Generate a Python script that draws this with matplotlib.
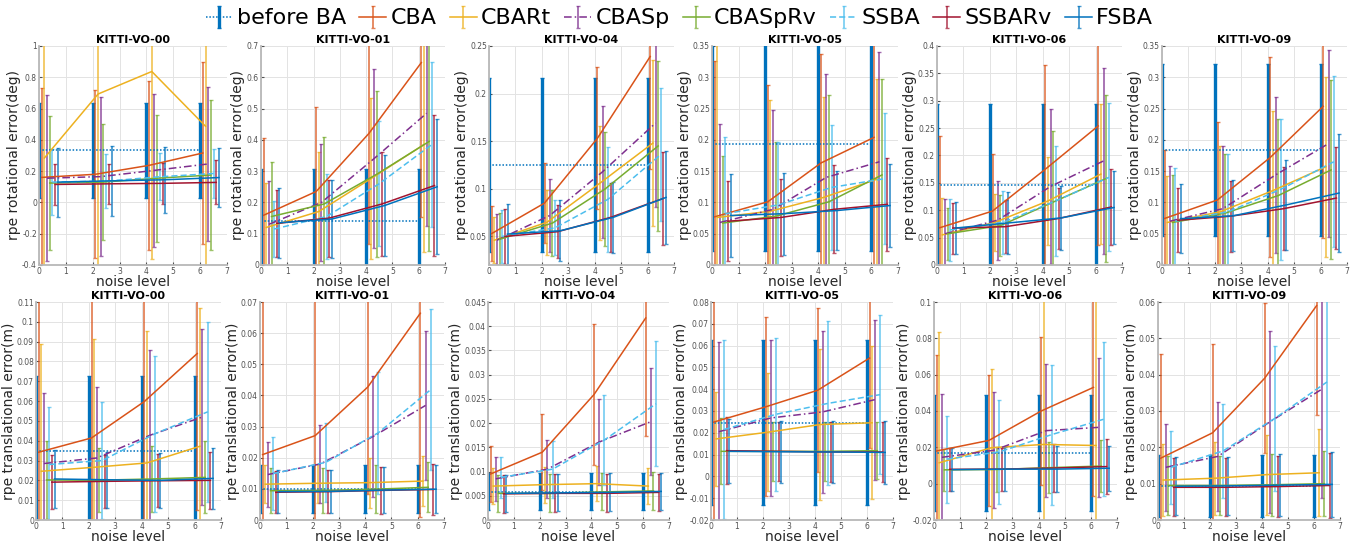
import matplotlib
matplotlib.use('Agg')
import matplotlib.pyplot as plt
from matplotlib.ticker import FuncFormatter, MultipleLocator
import numpy as np

plt.rcParams['font.family'] = ['DejaVu Sans']

# ---------------- data ----------------
noise_levels = [0, 2, 4, 6]
series_names = ['before BA', 'CBA', 'CBARt', 'CBASp', 'CBASpRv', 'SSBA', 'SSBARv', 'FSBA']
sequences = ['KITTI-VO-00', 'KITTI-VO-01', 'KITTI-VO-04', 'KITTI-VO-05', 'KITTI-VO-06', 'KITTI-VO-09']

# rows: series (same order as series_names); columns: noise levels 0,2,4,6
rot00_mean = [[0.332, 0.332, 0.332, 0.332], [0.16, 0.18, 0.237, 0.316], [0.284, 0.693, 0.837, 0.487],
              [0.155, 0.165, 0.205, 0.246], [0.124, 0.13, 0.155, 0.175], [0.13, 0.136, 0.164, 0.185],
              [0.115, 0.119, 0.122, 0.128], [0.13, 0.138, 0.145, 0.159]]
rot00_std = [[0.304, 0.304, 0.304, 0.304], [0.57, 0.536, 0.54, 0.58], [1.2, 1.2, 1.2, 1.2],
             [0.53, 0.51, 0.49, 0.49], [0.43, 0.37, 0.405, 0.48], [0.21, 0.174, 0.151, 0.157],
             [0.133, 0.129, 0.132, 0.141], [0.22, 0.222, 0.21, 0.186]]

rot01_mean = [[0.141, 0.141, 0.141, 0.141], [0.159, 0.235, 0.42, 0.647], [0.12, 0.171, 0.277, 0.385],
              [0.13, 0.2, 0.34, 0.485], [0.155, 0.195, 0.29, 0.395], [0.115, 0.155, 0.26, 0.385],
              [0.133, 0.15, 0.195, 0.254], [0.135, 0.147, 0.19, 0.25]]
rot01_std = [[0.165, 0.165, 0.165, 0.165], [0.248, 0.27, 0.353, 0.494], [0.141, 0.19, 0.258, 0.345],
             [0.137, 0.187, 0.287, 0.36], [0.173, 0.213, 0.265, 0.35], [0.09, 0.135, 0.2, 0.264],
             [0.106, 0.123, 0.166, 0.225], [0.112, 0.125, 0.16, 0.216]]

rot04_mean = [[0.125, 0.125, 0.125, 0.125], [0.053, 0.085, 0.153, 0.239], [0.046, 0.065, 0.106, 0.148],
              [0.046, 0.072, 0.118, 0.169], [0.047, 0.064, 0.1, 0.145], [0.05, 0.059, 0.089, 0.136],
              [0.05, 0.055, 0.07, 0.09], [0.0525, 0.056, 0.07, 0.091]]
rot04_std = [[0.0914, 0.0914, 0.0914, 0.0914], [0.0286, 0.042, 0.0745, 0.118], [0.024, 0.034, 0.06, 0.087],
             [0.028, 0.038, 0.0695, 0.088], [0.028, 0.0345, 0.06, 0.089], [0.028, 0.029, 0.055, 0.07],
             [0.029, 0.028, 0.036, 0.0487], [0.032, 0.032, 0.0375, 0.049]]

rot05_mean = [[0.194, 0.194, 0.194, 0.194], [0.077, 0.101, 0.163, 0.204], [0.076, 0.086, 0.108, 0.137],
              [0.068, 0.089, 0.14, 0.165], [0.067, 0.078, 0.101, 0.144], [0.082, 0.096, 0.124, 0.138],
              [0.07, 0.076, 0.089, 0.097], [0.079, 0.082, 0.087, 0.095]]
rot05_std = [[0.172, 0.172, 0.172, 0.172], [0.249, 0.186, 0.175, 0.23], [0.3, 0.177, 0.16, 0.16],
             [0.157, 0.159, 0.165, 0.176], [0.107, 0.118, 0.17, 0.153], [0.123, 0.101, 0.1, 0.105],
             [0.064, 0.062, 0.0705, 0.0747], [0.066, 0.0655, 0.063, 0.0665]]

rot06_mean = [[0.147, 0.147, 0.147, 0.147], [0.068, 0.0985, 0.175, 0.254], [0.055, 0.078, 0.117, 0.166],
              [0.057, 0.082, 0.1435, 0.19], [0.057, 0.072, 0.115, 0.158], [0.064, 0.078, 0.117, 0.16],
              [0.0675, 0.07, 0.085, 0.106], [0.0675, 0.0768, 0.086, 0.105]]
rot06_std = [[0.147, 0.147, 0.147, 0.147], [0.167, 0.104, 0.19, 0.217], [0.067, 0.052, 0.08, 0.1275],
             [0.064, 0.072, 0.1415, 0.169], [0.047, 0.056, 0.13, 0.152], [0.056, 0.058, 0.101, 0.135],
             [0.0465, 0.048, 0.056, 0.07], [0.0475, 0.0565, 0.058, 0.067]]

rot09_mean = [[0.1835, 0.1835, 0.1835, 0.1835], [0.0744, 0.104, 0.172, 0.2536], [0.068, 0.085, 0.119, 0.157],
              [0.07, 0.09, 0.144, 0.194], [0.068, 0.083, 0.111, 0.152], [0.07, 0.085, 0.121, 0.165],
              [0.0715, 0.078, 0.09, 0.107], [0.074, 0.0787, 0.096, 0.115]]
rot09_std = [[0.137, 0.137, 0.137, 0.137], [0.11, 0.125, 0.16, 0.21], [0.074, 0.105, 0.127, 0.144],
             [0.088, 0.1, 0.125, 0.15], [0.076, 0.095, 0.123, 0.143], [0.085, 0.093, 0.113, 0.137],
             [0.0515, 0.057, 0.0665, 0.082], [0.055, 0.0566, 0.072, 0.094]]

trans00_mean = [[0.0347, 0.0347, 0.0347, 0.0347], [0.0342, 0.0414, 0.0598, 0.084], [0.0246, 0.0266, 0.0288, 0.0372],
                [0.0285, 0.0313, 0.0427, 0.052], [0.0202, 0.0201, 0.0207, 0.0215], [0.028, 0.03, 0.0435, 0.0546],
                [0.0191, 0.0195, 0.0198, 0.02], [0.0207, 0.0203, 0.02, 0.021]]
trans00_std = [[0.0382, 0.0382, 0.0382, 0.0382], [0.08, 0.08, 0.08, 0.079], [0.064, 0.0647, 0.0667, 0.07],
               [0.0358, 0.036, 0.043, 0.0443], [0.0195, 0.0162, 0.0168, 0.0182], [0.0288, 0.0293, 0.0395, 0.0454],
               [0.0136, 0.0132, 0.0133, 0.0142], [0.0145, 0.0142, 0.0138, 0.0152]]

trans01_mean = [[0.01, 0.01, 0.01, 0.01], [0.021, 0.0271, 0.0427, 0.0664], [0.0115, 0.0118, 0.012, 0.0125],
                [0.0146, 0.018, 0.0268, 0.0368], [0.0094, 0.0095, 0.0099, 0.0105], [0.0149, 0.0185, 0.028, 0.0419],
                [0.0089, 0.0091, 0.0095, 0.0098], [0.0091, 0.0092, 0.0096, 0.0099]]
trans01_std = [[0.0076, 0.0076, 0.0076, 0.0076], [0.055, 0.05, 0.0343, 0.0655], [0.0061, 0.0063, 0.008, 0.008],
               [0.0105, 0.0125, 0.0194, 0.0238], [0.0072, 0.0073, 0.0077, 0.008], [0.0117, 0.0128, 0.0195, 0.026],
               [0.0068, 0.0068, 0.0076, 0.0081], [0.0069, 0.007, 0.0074, 0.0077]]

trans04_mean = [[0.0058, 0.0058, 0.0058, 0.0058], [0.0095, 0.014, 0.0259, 0.0417], [0.007, 0.0073, 0.0075, 0.007],
                [0.0085, 0.0105, 0.0161, 0.0203], [0.0055, 0.0055, 0.0058, 0.006], [0.0088, 0.0105, 0.0165, 0.024],
                [0.0054, 0.0055, 0.0055, 0.0057], [0.0055, 0.0056, 0.0057, 0.0059]]
trans04_std = [[0.0038, 0.0038, 0.0038, 0.0038], [0.0058, 0.0078, 0.0145, 0.0243], [0.0038, 0.0037, 0.0036, 0.0038],
               [0.0045, 0.006, 0.0088, 0.011], [0.0038, 0.0039, 0.0038, 0.0039], [0.0043, 0.0059, 0.0092, 0.0129],
               [0.0039, 0.0039, 0.0039, 0.0038], [0.0038, 0.0038, 0.0039, 0.0039]]

trans05_mean = [[0.0247, 0.0247, 0.0247, 0.0247], [0.0249, 0.0319, 0.0395, 0.0543], [0.0172, 0.0203, 0.0238, 0.0246],
                [0.0205, 0.0268, 0.0296, 0.0352], [0.0115, 0.0115, 0.0115, 0.0118], [0.0215, 0.0285, 0.0335, 0.0375],
                [0.0118, 0.0115, 0.0112, 0.0112], [0.0115, 0.0113, 0.0112, 0.011]]
trans05_std = [[0.0379, 0.0379, 0.0379, 0.0379], [0.065, 0.041, 0.0377, 0.0415], [0.0216, 0.027, 0.0345, 0.035],
               [0.041, 0.0358, 0.037, 0.0367], [0.0152, 0.0135, 0.0135, 0.0132], [0.041, 0.035, 0.0376, 0.0366],
               [0.0155, 0.0135, 0.0136, 0.0137], [0.0147, 0.0143, 0.0144, 0.0143]]

trans06_mean = [[0.017, 0.017, 0.017, 0.017], [0.018, 0.0238, 0.04, 0.053], [0.0115, 0.0198, 0.0216, 0.021],
                [0.0145, 0.0184, 0.0292, 0.031], [0.0076, 0.0078, 0.0088, 0.0097], [0.0135, 0.0175, 0.027, 0.0355],
                [0.0079, 0.008, 0.0086, 0.0094], [0.0077, 0.008, 0.008, 0.0085]]
trans06_std = [[0.032, 0.032, 0.032, 0.032], [0.0527, 0.036, 0.0406, 0.06], [0.072, 0.0434, 0.08, 0.08],
               [0.035, 0.032, 0.0364, 0.0384], [0.0116, 0.0122, 0.0141, 0.0141], [0.024, 0.0288, 0.0385, 0.0425],
               [0.0119, 0.0118, 0.013, 0.0153], [0.0117, 0.012, 0.0126, 0.0125]]

trans09_mean = [[0.0093, 0.0093, 0.0093, 0.0093], [0.017, 0.024, 0.039, 0.059], [0.011, 0.0115, 0.0125, 0.013],
                [0.0145, 0.0175, 0.027, 0.036], [0.0095, 0.0095, 0.0097, 0.01], [0.0145, 0.019, 0.028, 0.038],
                [0.009, 0.009, 0.0092, 0.0095], [0.0093, 0.0094, 0.0096, 0.0098]]
trans09_std = [[0.0085, 0.0085, 0.0085, 0.0085], [0.0287, 0.0244, 0.0206, 0.03], [0.01, 0.01, 0.011, 0.012],
               [0.012, 0.015, 0.025, 0.03], [0.008, 0.008, 0.0085, 0.009], [0.01, 0.013, 0.02, 0.028],
               [0.008, 0.008, 0.0085, 0.009], [0.008, 0.008, 0.0085, 0.009]]

rot_means = [rot00_mean, rot01_mean, rot04_mean, rot05_mean, rot06_mean, rot09_mean]
rot_stds = [rot00_std, rot01_std, rot04_std, rot05_std, rot06_std, rot09_std]
trans_means = [trans00_mean, trans01_mean, trans04_mean, trans05_mean, trans06_mean, trans09_mean]
trans_stds = [trans00_std, trans01_std, trans04_std, trans05_std, trans06_std, trans09_std]

rot_ylims = [(-0.4, 1), (0, 0.7), (0.02, 0.25), (0, 0.35), (0, 0.4), (0, 0.35)]
rot_ysteps = [0.2, 0.1, 0.05, 0.05, 0.05, 0.05]
trans_ylims = [(0, 0.11), (0, 0.07), (0, 0.045), (-0.02, 0.08), (-0.02, 0.1), (0, 0.06)]
trans_ysteps = [0.01, 0.01, 0.005, 0.01, 0.02, 0.01]

# ---------------- style ----------------
colors = ['#0072BD', '#D95319', '#EDB120', '#7E2F8E', '#77AC30', '#4DBEEE', '#A2142F', '#0072BD']
linestyles = [(0, (1, 1.2)), '-', '-', (0, (5, 2, 1, 2)), '-', (0, (4, 2)), '-', '-']
offsets = [0.0, 0.1, 0.2, 0.3, 0.4, 0.5, 0.6, 0.7]
elws = [2.4, 1.3, 1.3, 1.3, 1.3, 1.3, 1.3, 1.3]

W, H = 1359, 544
fig = plt.figure(figsize=(W / 100, H / 100), dpi=100)

row1_l = [39, 261, 489, 712, 937, 1162]
row1_r = [227, 445, 674, 898, 1122, 1347]
row2_l = [36, 260, 488, 711, 934, 1158]
row2_r = [221, 444, 669, 893, 1117, 1340]
row1_tb = (46, 265)
row2_tb = (302, 520)

fmt = FuncFormatter(lambda v, p: '%g' % round(v, 6))


def draw(ax, means, stds, title, ylim, ystep, ylabel):
    handles = []
    x0 = np.array(noise_levels, dtype=float)
    for k in range(len(series_names)):
        eb = ax.errorbar(x0 + offsets[k], means[k], yerr=stds[k], color=colors[k],
                         linestyle=linestyles[k], linewidth=1.1, elinewidth=elws[k],
                         capsize=1.6, capthick=1.0, label=series_names[k])
        a = 1.0 if k == 0 else 0.72
        for b in eb[2]:
            b.set_alpha(a)
        for c in eb[1]:
            c.set_alpha(a)
        handles.append(eb)
    ax.set_xlim(0, 7)
    ax.set_ylim(*ylim)
    ax.xaxis.set_major_locator(MultipleLocator(1))
    ax.yaxis.set_major_locator(MultipleLocator(ystep))
    ax.yaxis.set_major_formatter(fmt)
    ax.xaxis.set_major_formatter(fmt)
    ax.grid(True, color='#e3e3e3', linewidth=0.7)
    ax.set_axisbelow(True)
    ax.tick_params(labelsize=5.5, colors='#505050', direction='in', length=2, pad=1.5)
    for s in ['top', 'right']:
        ax.spines[s].set_visible(False)
    for s in ['left', 'bottom']:
        ax.spines[s].set_color('#b8b8b8')
        ax.spines[s].set_linewidth(1.3)
    ax.set_title(title, fontsize=8, fontweight='bold', pad=2.5)
    ax.set_xlabel('noise level', fontsize=10, labelpad=-1.0, color='#262626')
    ax.set_ylabel(ylabel, fontsize=10, labelpad=1, color='#262626')
    return handles


handles = None
for i in range(6):
    t, b = row1_tb
    ax = fig.add_axes([row1_l[i] / W, 1 - b / H, (row1_r[i] - row1_l[i]) / W, (b - t) / H])
    h = draw(ax, rot_means[i], rot_stds[i], sequences[i], rot_ylims[i], rot_ysteps[i],
             'rpe rotational error(deg)')
    if handles is None:
        handles = h
    t, b = row2_tb
    ax = fig.add_axes([row2_l[i] / W, 1 - b / H, (row2_r[i] - row2_l[i]) / W, (b - t) / H])
    draw(ax, trans_means[i], trans_stds[i], sequences[i], trans_ylims[i], trans_ysteps[i],
         'rpe translational error(m)')

fig.legend(handles, series_names, loc='upper center', bbox_to_anchor=(0.5, 1.005), ncol=8,
           frameon=False, fontsize=16, handlelength=1.2, handletextpad=0.2, columnspacing=0.6,
           borderaxespad=0.1)

fig.savefig('out.png', dpi=100)
